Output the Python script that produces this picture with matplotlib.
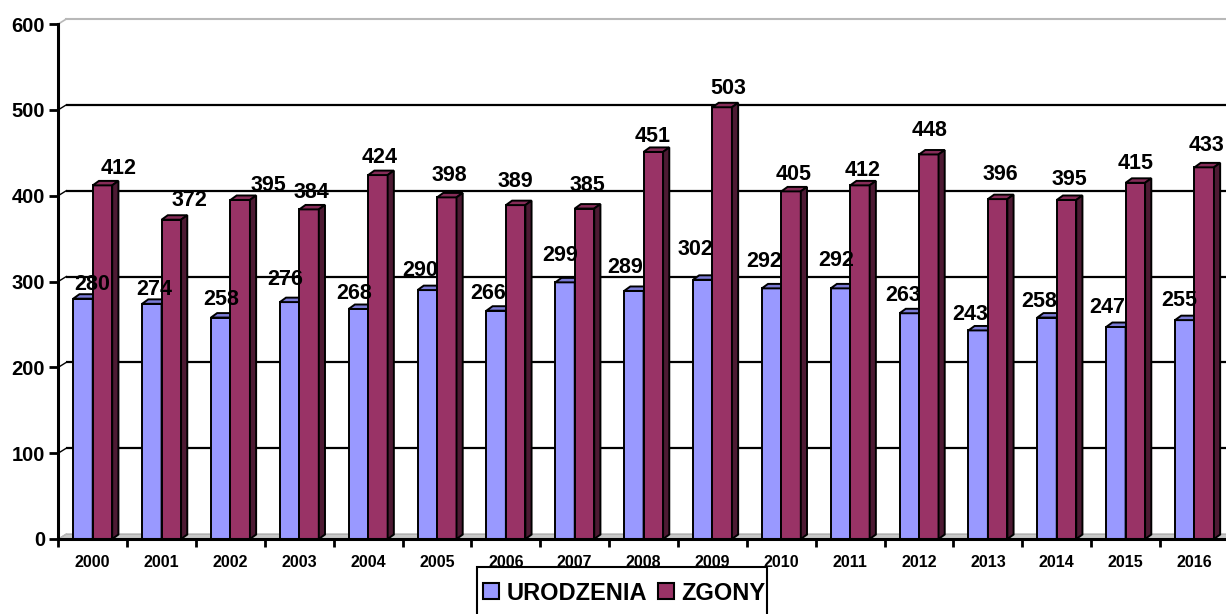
import matplotlib
matplotlib.use('Agg')
import matplotlib.pyplot as plt
from matplotlib.patches import Polygon, Rectangle, Patch

# dane
lata = ['2000', '2001', '2002', '2003', '2004', '2005', '2006', '2007', '2008',
        '2009', '2010', '2011', '2012', '2013', '2014', '2015', '2016']
urodzenia = [280, 274, 258, 276, 268, 290, 266, 299, 289, 302, 292, 292, 263, 243, 258, 247, 255]
zgony = [412, 372, 395, 384, 424, 398, 389, 385, 451, 503, 405, 412, 448, 396, 395, 415, 433]

# przesuniecia etykiet (px) wzgledem srodka gornej krawedzi slupka
urodz_dx = [8.8, 2.4, 0.5, -4.8, -4.7, -7.5, -8.4, -5.3, -8.6, -7.5, -7.8, -4.7, -6.5, -8.4, -8.3, -9.1, -5.0]
urodz_dy = [14.2, 14.8, 18.1, 22.6, 15.5, 19.1, 17.2, 26.9, 23.5, 30.3, 26.9, 27.9, 17.8, 16.4, 15.6, 19.5, 20.1]
zgony_dx = [15.8, 17.9, 28.5, 2.7, 1.8, 2.5, -0.4, 2.7, -1.1, 6.5, 2.7, 2.8, 0.5, 2.6, 2.7, 0.0, 2.5]
zgony_dy = [16.4, 19.7, 14.5, 16.4, 17.6, 21.9, 24.1, 22.6, 15.4, 18.3, 16.9, 14.9, 24.0, 24.6, 20.0, 19.3, 21.4]

plt.rcParams['font.family'] = ['Liberation Sans', 'DejaVu Sans']
plt.rcParams['font.weight'] = 'bold'

fig = plt.figure(figsize=(12.26, 6.14), dpi=100)
ax = fig.add_axes([58.3 / 1226, 75 / 614, 1170.6 / 1226, 515 / 614])
ax.set_xlim(-0.5, 16.5)
ax.set_ylim(0, 600)

# glebokosc 3D
w = 0.283
bdx, bdy = 0.09, 5.2      # slupki
wdx, wdy = 0.116, 5.8     # sciana tylna

# podloga
ax.add_patch(Polygon([(-0.5, 0), (-0.5 + wdx, wdy), (17.5, wdy), (17.5, 0)],
                     closed=True, facecolor='#c8c8c8', edgecolor='#a0a0a0', lw=0.8,
                     zorder=1, clip_on=False))

# siatka na tylnej scianie
for v in range(100, 600, 100):
    ax.plot([-0.5 + wdx, 17.5], [v + wdy, v + wdy], color='black', lw=1.6,
            zorder=1, clip_on=False, solid_capstyle='butt')
    ax.plot([-0.5, -0.5 + wdx], [v, v + wdy], color='black', lw=1.0, zorder=1, clip_on=False)
ax.plot([-0.5 + wdx, 17.5], [600 + wdy, 600 + wdy], color='#b8b8b8', lw=1.5, zorder=1, clip_on=False)
ax.plot([-0.5, -0.5 + wdx], [600, 600 + wdy], color='#b8b8b8', lw=1.2, zorder=1, clip_on=False)
ax.plot([-0.5, -0.5 + wdx], [0, wdy], color='#b8b8b8', lw=1.0, zorder=1, clip_on=False)


def slupek(x0, v, front, top, side, z):
    ax.add_patch(Rectangle((x0, 0), w, v, facecolor=front, edgecolor='black', lw=1.4, zorder=z))
    ax.add_patch(Polygon([(x0, v), (x0 + bdx, v + bdy), (x0 + w + bdx, v + bdy), (x0 + w, v)],
                         closed=True, facecolor=top, edgecolor='black', lw=1.4, zorder=z))
    ax.add_patch(Polygon([(x0 + w, 0), (x0 + w + bdx, bdy), (x0 + w + bdx, v + bdy), (x0 + w, v)],
                         closed=True, facecolor=side, edgecolor='black', lw=1.4, zorder=z))


for i in range(len(lata)):
    xb = i - w
    xr = i
    slupek(xb, urodzenia[i], '#9999ff', '#7b7bd6', '#4d4d80', 3 + i * 0.01)
    slupek(xr, zgony[i], '#993366', '#862c58', '#4d1a33', 4 + i * 0.01)
    ax.annotate(str(urodzenia[i]), (xb + w / 2, urodzenia[i]),
                xytext=(urodz_dx[i] * 0.72, urodz_dy[i] * 0.72), textcoords='offset points',
                ha='center', va='center', fontsize=15.5, fontweight='bold', zorder=6)
    ax.annotate(str(zgony[i]), (xr + w / 2, zgony[i]),
                xytext=(zgony_dx[i] * 0.72, zgony_dy[i] * 0.72), textcoords='offset points',
                ha='center', va='center', fontsize=15.5, fontweight='bold', zorder=6)

# osie
for s in ['top', 'right']:
    ax.spines[s].set_visible(False)
ax.spines['left'].set_linewidth(2.2)
ax.spines['bottom'].set_linewidth(2.2)
ax.spines['left'].set_zorder(7)
ax.spines['bottom'].set_zorder(7)

ax.set_yticks(range(0, 601, 100))
ax.tick_params(axis='y', length=6.5, width=2, pad=3, labelsize=14.5)
ax.set_xticks([i - 0.5 for i in range(len(lata) + 1)])
ax.set_xticklabels([])
ax.set_xticks(range(len(lata)), minor=True)
ax.set_xticklabels(lata, minor=True)
ax.tick_params(axis='x', which='major', length=5.5, width=2, direction='out')
ax.tick_params(axis='x', which='minor', length=0, pad=11.5, labelsize=11.5)
for t in ax.get_yticklabels() + ax.get_xticklabels(minor=True):
    t.set_fontweight('bold')

# legenda
fig.add_artist(Rectangle((477 / 1226, -0.05), 290 / 1226, 0.05 + 47 / 614,
                         transform=fig.transFigure, facecolor='white',
                         edgecolor='black', lw=1.5, zorder=8))
uchwyty = [Patch(facecolor='#9999ff', edgecolor='black', lw=1.5, label='URODZENIA'),
           Patch(facecolor='#993366', edgecolor='black', lw=1.5, label='ZGONY')]
leg = fig.legend(handles=uchwyty, loc='center left', bbox_to_anchor=(483 / 1226, 21 / 614),
                 ncol=2, frameon=False, borderpad=0, borderaxespad=0,
                 handlelength=0.68, handleheight=0.68, handletextpad=0.34,
                 columnspacing=0.42, prop={'size': 17, 'weight': 'bold'})
leg.set_zorder(9)

fig.savefig('out.png', dpi=100)
